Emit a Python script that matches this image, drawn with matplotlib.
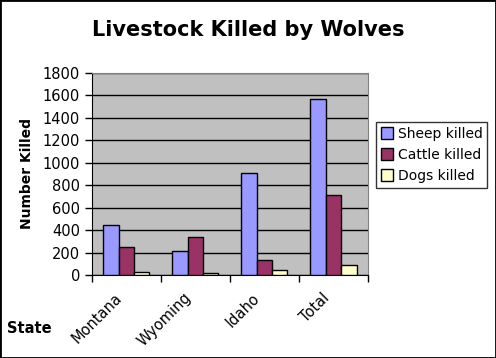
import numpy as np
import matplotlib
matplotlib.use("Agg")
import matplotlib.pyplot as plt
from matplotlib.patches import Rectangle
from matplotlib.transforms import ScaledTranslation

# data
states = ["Montana", "Wyoming", "Idaho", "Total"]
sheep = [445, 214, 909, 1566]
cattle = [247, 339, 131, 710]
dogs = [27, 18, 45, 89]
series_names = ["Sheep killed", "Cattle killed", "Dogs killed"]
colors = ["#9999FF", "#993366", "#FFFFCC"]

fig = plt.figure(figsize=(4.96, 3.58), dpi=100)
ax = fig.add_axes([0.185, 0.232, 0.557, 0.564])
ax.set_facecolor("#C0C0C0")

x = np.arange(len(states))
w = 1 / 4.5
for i, (vals, name, c) in enumerate(zip([sheep, cattle, dogs], series_names, colors)):
    ax.bar(x + (i - 1) * w, vals, w, color=c, edgecolor="black", linewidth=1,
           label=name, zorder=3)

ax.set_ylim(0, 1800)
ax.set_yticks(np.arange(0, 1801, 200))
ax.yaxis.grid(True, color="black", linewidth=1, zorder=1)
ax.set_xlim(-0.5, len(states) - 0.5)

# ticks on category boundaries, labels at centres
ax.set_xticks(np.arange(-0.5, len(states), 1))
ax.set_xticklabels([])
ax.set_xticks(x, minor=True)
ax.set_xticklabels(states, minor=True, rotation=45, ha="right", rotation_mode="anchor",
                   fontsize=10.5)
ax.tick_params(axis="x", which="minor", length=0, pad=11)
ax.tick_params(axis="x", which="major", direction="out", length=5, width=1)
ax.tick_params(axis="y", direction="out", length=5, width=1, labelsize=10.5)
shift = ScaledTranslation(-12 / 100, 0, fig.dpi_scale_trans)
for lab in ax.get_xticklabels(minor=True):
    lab.set_transform(lab.get_transform() + shift)

for s in ["top", "right"]:
    ax.spines[s].set_color("#808080")
for s in ["left", "bottom"]:
    ax.spines[s].set_color("black")

ax.set_ylabel("Number Killed", fontsize=10, fontweight="bold", labelpad=6)
fig.text(0.014, 0.07, "State", fontsize=10.5, fontweight="bold")
fig.suptitle("Livestock Killed by Wolves", fontsize=15, fontweight="bold", y=0.945)

leg = ax.legend(loc="upper left", bbox_to_anchor=(1.029, 0.757), fontsize=10,
                frameon=True, fancybox=False, edgecolor="black",
                handlelength=0.9, handleheight=0.9, handletextpad=0.3,
                borderaxespad=0, labelspacing=0.5, borderpad=0.35)
leg.get_frame().set_linewidth(1)

# black border around the figure
fig.patches.append(Rectangle((0, 0), 1, 1, transform=fig.transFigure, fill=False,
                             edgecolor="black", linewidth=2))

fig.savefig("out.png", dpi=100)
